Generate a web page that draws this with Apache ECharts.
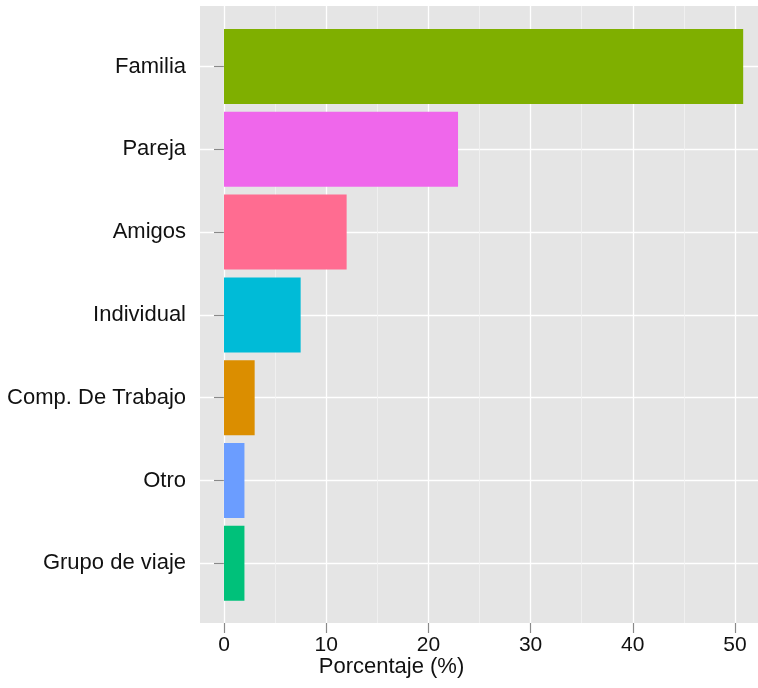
<!DOCTYPE html>
<html>
<head>
<meta charset="utf-8">
<script src="https://cdn.jsdelivr.net/npm/echarts@6/dist/echarts.min.js"></script>
<style>
html,body{margin:0;padding:0;background:#fff;}
#chart{width:758px;height:688px;}
</style>
</head>
<body>
<div id="chart"></div>
<script>
const categories = ['Familia', 'Pareja', 'Amigos', 'Individual', 'Comp. De Trabajo', 'Otro', 'Grupo de viaje'];
const values = [50.8, 22.9, 12.0, 7.5, 3.0, 2.0, 2.0];
const barColors = ['#7FAF00', '#EF67EB', '#FF6C91', '#00BBD7', '#DB8E00', '#6B9DFF', '#00C17A'];
const xTickValues = [0, 10, 20, 30, 40, 50];
const xTitle = 'Porcentaje (%)';

const FONT = '"Liberation Sans", Arial, Helvetica, sans-serif';
const panelLeft = 200, panelTop = 6, panelBottom = 623, panelRight = 758;
const zeroX = 224;
const pxPerUnit = 10.22;
const axisMax = 60;
const gridAWidth = axisMax * pxPerUnit;
const firstCenter = 66.5, band = 82.8;

const chart = echarts.init(document.getElementById('chart'), null, {renderer: 'canvas'});
const option = {
  backgroundColor: '#ffffff',
  animation: false,
  textStyle: {fontFamily: FONT},
  grid: [
    {left: zeroX, top: panelTop, width: gridAWidth, height: panelBottom - panelTop,
     containLabel: false, outerBoundsMode: 'none'},
    {left: panelLeft, top: firstCenter, width: gridAWidth + (zeroX - panelLeft), height: band * (categories.length - 1),
     containLabel: false, outerBoundsMode: 'none'}
  ],
  graphic: [
    {type: 'rect', z: -10, silent: true,
     shape: {x: panelLeft, y: panelTop, width: panelRight - panelLeft, height: panelBottom - panelTop},
     style: {fill: '#E5E5E5'}},
    {type: 'text', z: 10, silent: true, x: 391.5, y: 667,
     style: {text: xTitle, font: '22px ' + FONT, fill: '#111', textAlign: 'center', textVerticalAlign: 'middle'}}
  ],
  xAxis: [
    {type: 'value', gridIndex: 0, min: 0, max: axisMax, interval: 10, z: 1,
     axisLine: {show: false},
     axisTick: {show: true, length: 10, lineStyle: {color: '#8a8a8a', width: 1.2}},
     axisLabel: {fontSize: 21, color: '#111', margin: 12, fontFamily: FONT,
       formatter: v => (xTickValues.indexOf(v) >= 0 ? String(v) : '')},
     splitLine: {show: true, lineStyle: {color: '#FFFFFF', width: 1.3}},
     minorTick: {show: false, splitNumber: 2},
     minorSplitLine: {show: true, lineStyle: {color: '#F3F3F3', width: 0.8}}
    },
    {type: 'value', gridIndex: 1, min: -(zeroX - panelLeft) / pxPerUnit, max: axisMax, show: false,
     splitLine: {show: false}}
  ],
  yAxis: [
    {type: 'value', gridIndex: 0, show: false, splitLine: {show: false}},
    {type: 'category', gridIndex: 1, data: categories, inverse: true, boundaryGap: false,
     axisLine: {show: false},
     axisTick: {show: true, length: 10, lineStyle: {color: '#8a8a8a', width: 1.2}},
     axisLabel: {fontSize: 22, color: '#111', margin: 14, fontFamily: FONT},
     splitLine: {show: true, lineStyle: {color: '#FFFFFF', width: 1.3}}
    }
  ],
  series: [
    {type: 'bar', xAxisIndex: 1, yAxisIndex: 1, barWidth: 75, clip: false, z: 3,
     data: values.map((v, i) => ({value: v, itemStyle: {color: barColors[i]}}))}
  ]
};
chart.setOption(option);
</script>
</body>
</html>
